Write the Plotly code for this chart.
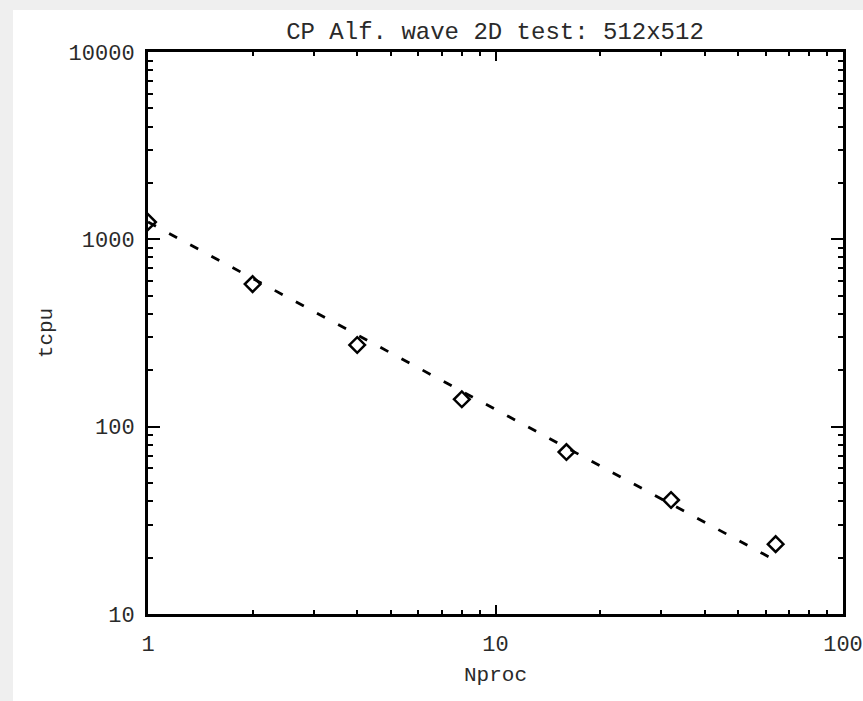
import plotly.graph_objects as go

# Data
nproc = [1, 2, 4, 8, 16, 32, 64]
tcpu = [1237, 577, 273, 140, 73.2, 40.6, 23.6]
ideal = [1237, 618, 309, 155, 77.3, 38.7, 19.3]

x_major = [1, 10, 100]
x_major_text = ["1", "10", "100"]
y_major = [10, 100, 1000, 10000]
y_major_text = ["10", "100", "1000", "10000"]
x_minor = [m * d for d in (1, 10) for m in range(2, 10)]
y_minor = [m * d for d in (10, 100, 1000) for m in range(2, 10)]

FONT = "Liberation Mono"
TXT = "#2a2a2a"

fig = go.Figure()
fig.add_trace(go.Scatter(
    x=nproc, y=ideal, mode="lines",
    line=dict(color="black", width=2.8, dash="9px,15px"),
    showlegend=False,
))
fig.add_trace(go.Scatter(
    x=nproc, y=tcpu, mode="markers",
    marker=dict(symbol="diamond-open", size=12, color="black",
                line=dict(color="black", width=2.5)),
    showlegend=False, cliponaxis=True,
))

L, R, T, B = 148, 20, 52, 87
W, H = 863, 701
pw, ph = W - L - R, H - T - B

# light gray frame at the left/top edges
fig.add_shape(type="rect", xref="paper", yref="paper",
              x0=(13 - L) / pw, x1=(W - L) / pw,
              y0=-(H - (T + ph)) / ph, y1=(T + ph - 10) / ph,
              fillcolor="white", line=dict(width=0), layer="below")

axis_common = dict(
    type="log", showgrid=False, zeroline=False,
    showline=True, linecolor="black", linewidth=3, mirror="ticks",
    ticks="inside", tickcolor="black", tickwidth=2,
    tickfont=dict(family=FONT, size=22, color=TXT),
)

fig.update_xaxes(
    **axis_common, range=[0, 2], tickmode="array",
    tickvals=x_major, ticktext=x_major_text, ticklen=9,
    minor=dict(tickmode="array", tickvals=x_minor, ticks="inside",
               ticklen=4, tickwidth=2, tickcolor="black"),
    ticklabelstandoff=8,
    title=dict(text="Nproc", font=dict(family=FONT, size=21, color=TXT), standoff=9),
)
fig.update_yaxes(
    **axis_common, range=[1, 4], tickmode="array",
    tickvals=y_major, ticktext=y_major_text, ticklen=12,
    minor=dict(tickmode="array", tickvals=y_minor, ticks="inside",
               ticklen=5, tickwidth=2, tickcolor="black"),
    ticklabelstandoff=6,
    title=dict(text="tcpu", font=dict(family=FONT, size=21, color=TXT), standoff=11),
)

fig.update_layout(
    width=W, height=H,
    margin=dict(l=L, r=R, t=T, b=B, autoexpand=False),
    paper_bgcolor="#efefef", plot_bgcolor="white",
    title=dict(text="CP Alf. wave 2D test: 512x512",
               font=dict(family=FONT, size=24, color=TXT),
               x=495 / W, xanchor="center", y=1 - 31 / H, yanchor="middle"),
)

fig.write_html("out.html")
